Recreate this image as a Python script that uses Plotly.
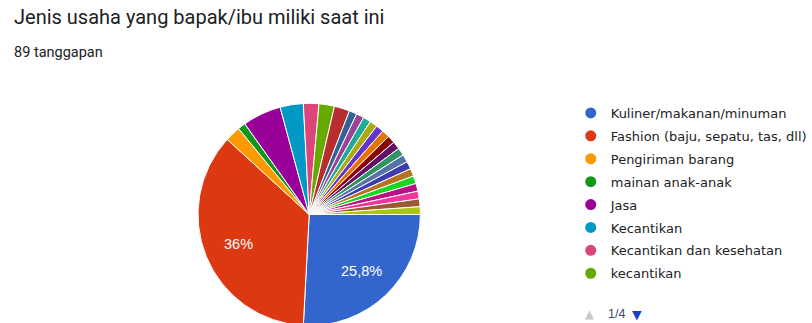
import math
import plotly.graph_objects as go

labels = [
    "Kuliner/makanan/minuman", "Fashion (baju, sepatu, tas, dll)", "Pengiriman barang",
    "mainan anak-anak", "Jasa", "Kecantikan", "Kecantikan dan kesehatan", "kecantikan",
] + ["Lainnya %d" % i for i in range(9, 27)]
values = [23, 32, 2, 1, 5, 3, 2, 2, 2] + [1] * 17
colors = [
    "#3366cc", "#dc3912", "#ff9900", "#109618", "#990099", "#0099c6", "#dd4477", "#66aa00",
    "#b82e2e", "#316395", "#994499", "#22aa99", "#aaaa11", "#6633cc", "#e67300", "#8b0707",
    "#651067", "#329262", "#5574a6", "#3b3eac", "#b77322", "#16d620", "#b91383", "#f4359e",
    "#9c5935", "#a9c413",
]
title_text = "Jenis usaha yang bapak/ibu miliki saat ini"
subtitle_text = "89 tanggapan"
legend_count = 8
page_text = "1/4"

W, H = 812, 340
total = sum(values)
start_angle = 90  # degrees clockwise from 12 o'clock

def pct_label(v):
    p = v / total * 100
    if p < 10:
        return ""
    s = "%.1f" % p
    if s.endswith(".0"):
        s = s[:-2]
    return s.replace(".", ",") + "%"

cx, cy, r = 311.5, 214.5, 112
fig = go.Figure()
fig.add_trace(go.Pie(
    labels=labels, values=values, sort=False, direction="clockwise", rotation=start_angle,
    marker=dict(colors=colors, line=dict(color="white", width=1)),
    textinfo="none", showlegend=False, hoverinfo="label+value+percent",
    domain=dict(x=[(cx - r) / W, (cx + r) / W], y=[1 - (cy + r) / H, 1 - (cy - r) / H]),
))

for i in range(legend_count):
    fig.add_trace(go.Scatter(
        x=[None], y=[None], mode="markers", name=labels[i], legendgroup=str(i),
        marker=dict(color=colors[i], size=11, symbol="circle"), hoverinfo="skip",
    ))

annotations = [
    dict(text=title_text, x=12 / W, y=1 - 17 / H, xref="paper", yref="paper",
         xanchor="left", yanchor="middle", showarrow=False,
         font=dict(family="Roboto", size=20, color="#202124")),
    dict(text=subtitle_text, x=12 / W, y=1 - 52 / H, xref="paper", yref="paper",
         xanchor="left", yanchor="middle", showarrow=False,
         font=dict(family="Roboto", size=14.5, color="#202124")),
    dict(text="▲", x=587 / W, y=1 - 314 / H, xref="paper", yref="paper",
         xanchor="left", yanchor="middle", showarrow=False,
         font=dict(family="DejaVu Sans", size=11.5, color="#c8c8c8")),
    dict(text=page_text, x=611 / W, y=1 - 314 / H, xref="paper", yref="paper",
         xanchor="left", yanchor="middle", showarrow=False,
         font=dict(family="Liberation Sans, Arial", size=12.5, color="#3c4a6e")),
    dict(text="▼", x=635 / W, y=1 - 314 / H, xref="paper", yref="paper",
         xanchor="left", yanchor="middle", showarrow=False,
         font=dict(family="DejaVu Sans", size=12.5, color="#1a3fcc")),
]

# percentage labels placed at the slice mid-angles (computed from the data)
cum = 0
for v in values:
    lab = pct_label(v)
    mid = start_angle + (cum + v / 2) / total * 360
    cum += v
    if not lab:
        continue
    a = math.radians(mid)
    px = cx + 0.69 * r * math.sin(a)
    py = cy - 0.69 * r * math.cos(a)
    annotations.append(dict(
        text=lab, x=px / W, y=1 - py / H, xref="paper", yref="paper",
        xanchor="center", yanchor="middle", showarrow=False,
        font=dict(family="Liberation Sans, Arial", size=14.5, color="white"),
    ))

fig.update_layout(
    width=W, height=H, margin=dict(l=0, r=0, t=0, b=0),
    paper_bgcolor="white", plot_bgcolor="white",
    xaxis=dict(visible=False), yaxis=dict(visible=False),
    legend=dict(
        x=575 / W, y=1 - 98 / H, xanchor="left", yanchor="top",
        font=dict(family="DejaVu Sans", size=13, color="#222222"),
        bgcolor="rgba(0,0,0,0)", tracegroupgap=3, itemsizing="trace",
    ),
    annotations=annotations,
)

fig.write_html("out.html", post_script="document.body.style.margin='0';document.body.style.overflow='hidden';")
